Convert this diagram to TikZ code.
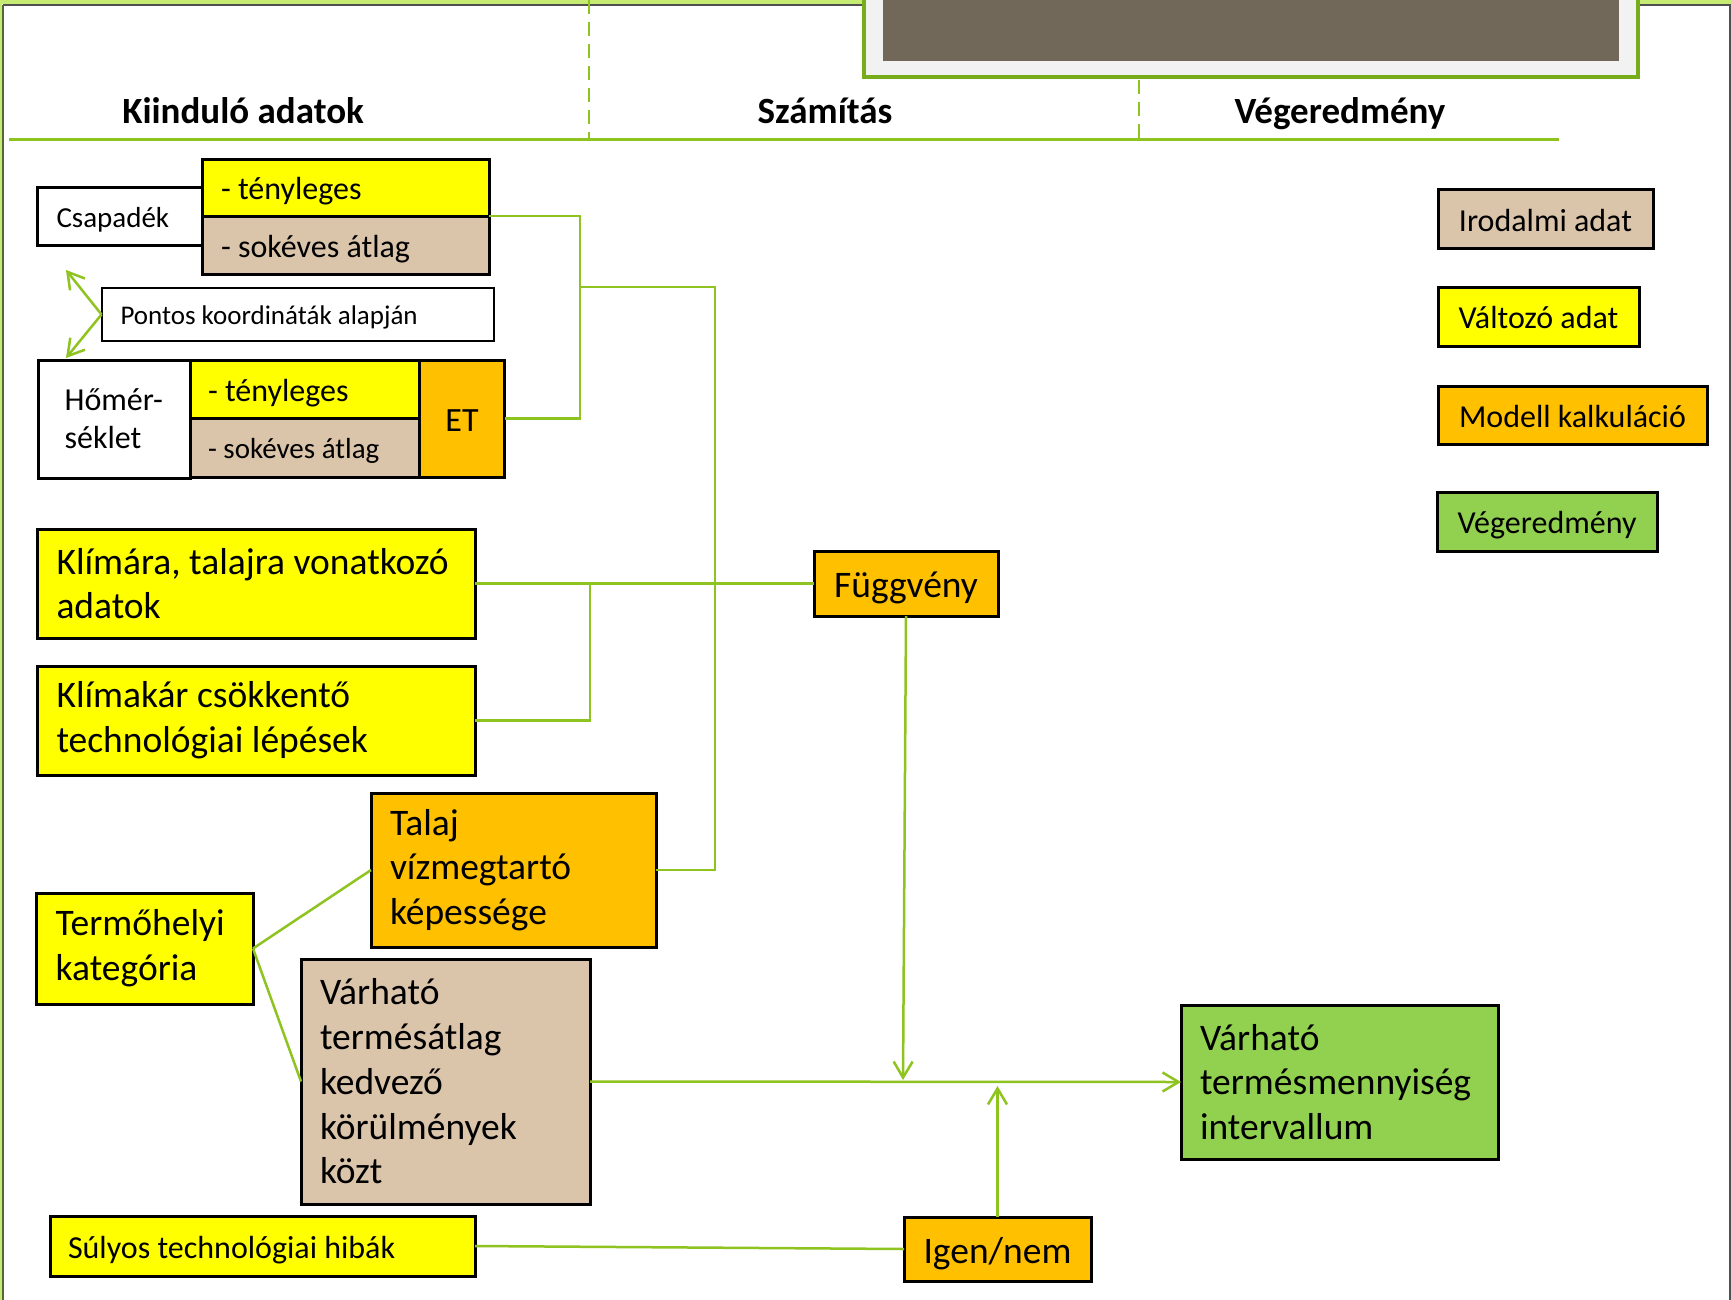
\documentclass[tikz,border=0pt]{standalone}
\usepackage{fontspec}
\setmainfont{Carlito}
\usetikzlibrary{arrows.meta}
\definecolor{yel}{HTML}{FFFF00}
\definecolor{tanc}{HTML}{DAC4AA}
\definecolor{orng}{HTML}{FFC000}
\definecolor{grn}{HTML}{92D050}
\definecolor{lime}{HTML}{8FC31F}
\definecolor{topgreen}{HTML}{C6EB72}
\definecolor{framegray}{HTML}{505050}
\definecolor{leftline}{HTML}{56663A}
\definecolor{photobg}{HTML}{F2F2F2}
\definecolor{photo}{HTML}{726859}
\definecolor{photogreen}{HTML}{77AC1B}
\newcommand\myfs[2]{\fontsize{#1}{#2}\selectfont\hyphenpenalty=10000\exhyphenpenalty=10000}
\tikzset{
  bx/.style={draw=black, line width=3pt, anchor=north west, inner ysep=0pt, outer sep=0pt},
  onebig/.style={text height=35.6pt, text depth=7.5pt},
  onemid/.style={text height=30.4pt, text depth=6.4pt},
  onesm/.style={text height=27.5pt, text depth=5.8pt},
  onexs/.style={text height=25.6pt, text depth=5.4pt},
  conn/.style={draw=lime, line width=2.5pt},
  arr/.style={conn, -{Straight Barb[length=16pt,width=19pt,line width=2.5pt]}},
  hdr/.style={font=\myfs{37}{44}\bfseries, anchor=base},
  big/.style={font=\myfs{37.5}{44.7}},
  mid/.style={font=\myfs{32}{38}},
}
\begin{document}
\begin{tikzpicture}[x=1pt,y=-1pt]
\useasboundingbox (0,0) rectangle (1731,1300);
\fill[white] (0,0) rectangle (1731,1300);
% page frame
\fill[topgreen] (0,0) rectangle (1731,4.5);
\fill[topgreen] (0,0) rectangle (2,1300);
\draw[framegray, line width=2pt] (3,5.5) -- (1731,5.5);
\draw[leftline, line width=2pt] (3,1300) -- (3,5.5);
\draw[framegray, line width=2pt] (1729.5,5.5) -- (1729.5,1300);
% photo frame
\draw[fill=photobg, draw=photogreen, line width=3.5pt] (864,-10) rectangle (1638,77);
\fill[photo] (883,-10) rectangle (1619,61);
% headers
\draw[lime, line width=3pt] (9,140) -- (1559,140);
\draw[lime, line width=2pt, dash pattern=on 14pt off 8pt] (589,0) -- (589,140);
\draw[lime, line width=2pt, dash pattern=on 14pt off 8pt] (1139,80) -- (1139,140);
\node[hdr] (h1) at (243,124) {Kiinduló adatok};
\node[hdr] (h2) at (825,124) {Számítás};
\node[hdr] (h3) at (1340,124) {Végeredmény};

% Csapadék group
\node[bx, onesm, fill=white, font=\myfs{29}{35}, minimum width=164.5pt, minimum height=57pt, text width=126.5pt, align=flush left] (csap) at (37.5,188) {Csapadék};
\node[bx, onemid, fill=yel, mid, minimum width=287pt, minimum height=56pt, text width=249pt, align=flush left] (csapT) at (202,160) {- tényleges};
\node[bx, onemid, fill=tanc, mid, minimum width=287pt, minimum height=58pt, text width=249pt, align=flush left] (csapS) at (202,216) {- sokéves átlag};
% Pontos
\node[bx, onexs, line width=2pt, fill=white, font=\myfs{27}{32}, minimum width=392pt, minimum height=53pt, text width=354pt, align=flush left] (pontos) at (101.5,288) {Pontos koordináták alapján};
\coordinate (pu) at (66,270);
\coordinate (pd) at (66,358);
\draw[arr] (pontos.west) -- (pu);
\draw[arr] (pontos.west) -- (pd);
% Hőmérséklet group
\node[bx, fill=white, mid, minimum width=151.4pt, minimum height=118pt, text width=99.4pt, align=flush left] (hom) at (38.6,360) {Hőmér-\\séklet};
\node[bx, onemid, fill=yel, mid, minimum width=229.5pt, minimum height=58pt, text width=193.5pt, align=flush left] (homT) at (190,360) {- tényleges};
\node[bx, onesm, fill=tanc, font=\myfs{29}{35}, minimum width=229.5pt, minimum height=59pt, text width=193.5pt, align=flush left] (homS) at (190,418) {- sokéves átlag};
\node[bx, fill=orng, font=\myfs{34}{40}, text height=32.3pt, text depth=6.8pt, minimum width=85pt, minimum height=117pt] (et) at (419.5,360) {ET};

% other inputs
\node[bx, fill=yel, big, minimum width=437.5pt, minimum height=109pt, text width=399.5pt, align=flush left] (klima) at (37.5,529) {Klímára, talajra vonatkozó\\adatok};
\node[bx, fill=yel, big, minimum width=437.5pt, minimum height=109pt, text width=399.5pt, align=flush left] (klimakar) at (37.5,666) {Klímakár csökkentő\\technológiai lépések};
\node[bx, onebig, fill=orng, big, minimum width=184pt, minimum height=65pt] (fugg) at (814,551) {Függvény};
\node[bx, fill=orng, big, minimum width=285pt, minimum height=154pt, text width=247pt, align=flush left] (talaj) at (371,793) {Talaj\\vízmegtartó\\képessége};
\node[bx, fill=yel, big, minimum width=216.6pt, minimum height=111pt, text width=178pt, align=flush left] (term) at (36.4,893) {Termőhelyi\\kategória};
\node[bx, fill=tanc, big, minimum width=289pt, minimum height=245pt, text width=251pt, align=flush left] (varh) at (301,959) {Várható\\termésátlag\\kedvező\\körülmények\\közt};
\node[bx, fill=grn, big, minimum width=317pt, minimum height=154pt, text width=279pt, align=flush left] (result) at (1181,1005) {Várható\\termésmennyiség\\intervallum};
\node[bx, onebig, fill=orng, big, minimum width=187pt, minimum height=64pt] (igen) at (904,1217) {Igen/nem};
\node[bx, onemid, fill=yel, mid, minimum width=425pt, minimum height=60pt, text width=389pt, align=flush left] (sulyos) at (50,1216) {Súlyos technológiai hibák};

% legend
\node[bx, onemid, fill=tanc, mid, minimum width=215pt, minimum height=58pt] (l1) at (1438,190) {Irodalmi adat};
\node[bx, onemid, fill=yel, mid, minimum width=201pt, minimum height=59pt] (l2) at (1438,287) {Változó adat};
\node[bx, onemid, fill=orng, mid, minimum width=269pt, minimum height=58pt] (l3) at (1438,386) {Modell kalkuláció};
\node[bx, onemid, fill=grn, mid, minimum width=220pt, minimum height=59pt] (l4) at (1437,492) {Végeredmény};

% connectors
\coordinate (jx) at (580,287);
\coordinate (jy) at (715,287);
\coordinate (jk) at (590,583.5);
\coordinate (tipF) at (903,1080);
\coordinate (tipI) at (997.5,1086);
\draw[conn] (csapT.south east) -- (csapT.south east -| jx) -- (et.east -| jx) -- (et.east);
\draw[conn] (jx) -- (jy) -- (jy |- talaj.east) -- (talaj.east);
\draw[conn] (klima.east) -- (fugg.west);
\draw[conn] (klimakar.east) -| (jk);
\draw[arr] (fugg.south) -- (tipF);
\draw[conn] (term.east) -- (talaj.west);
\draw[conn] (term.east) -- (varh.west);
\draw[arr] (varh.east) -- (result.west);
\draw[arr] (igen.north) -- (tipI);
\draw[conn] (sulyos.east) -- (igen.west);
\end{tikzpicture}
\end{document}
